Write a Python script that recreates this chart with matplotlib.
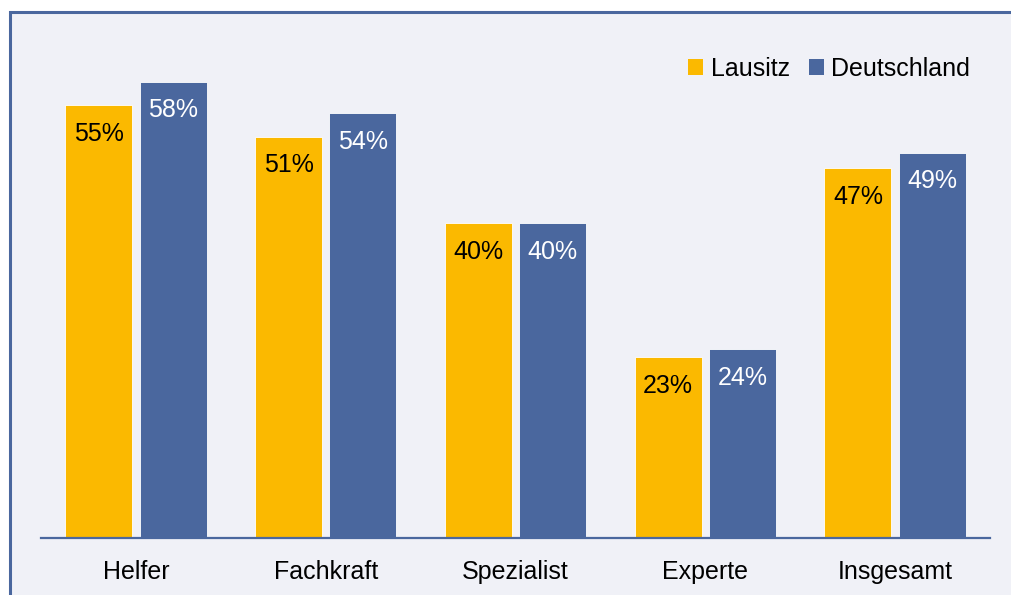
import matplotlib.pyplot as plt
from matplotlib.patches import Rectangle, Patch
import numpy as np

plt.rcParams['font.family'] = ['Liberation Sans', 'DejaVu Sans']

categories = ["Helfer", "Fachkraft", "Spezialist", "Experte", "Insgesamt"]
lausitz = [0.55, 0.51, 0.40, 0.23, 0.47]
deutschland = [0.58, 0.54, 0.40, 0.24, 0.49]
series_names = ["Lausitz", "Deutschland"]

yellow = "#FBB900"
blue = "#4A679E"
bg = "#F0F1F7"

W, H = 1011, 595
fig = plt.figure(figsize=(W / 100, H / 100), dpi=100)
fig.patch.set_facecolor("white")

# framed background panel
frame = Rectangle((10 / W, -0.05), 1.1, (H - 12) / H + 0.05, transform=fig.transFigure,
                  facecolor=bg, edgecolor=blue, linewidth=2.2, zorder=-10)
fig.patches.append(frame)

ax = fig.add_axes([41 / W, 57 / H, (990 - 41) / W, 519 / H])
ax.set_facecolor("none")

x = np.arange(len(categories))
w = 0.353
off = 0.196
b1 = ax.bar(x - off, lausitz, w, color=yellow, edgecolor="white", linewidth=0.6, label=series_names[0])
b2 = ax.bar(x + off, deutschland, w, color=blue, edgecolor="white", linewidth=0.6, label=series_names[1])

for bars, vals, col in [(b1, lausitz, "black"), (b2, deutschland, "white")]:
    for r, v in zip(bars, vals):
        ax.annotate(f"{v:.0%}", (r.get_x() + r.get_width() / 2, v), xytext=(0, -20.5),
                    textcoords="offset points", ha="center", va="center", fontsize=18, color=col)

ax.set_xlim(-0.5, len(categories) - 0.5)
ax.set_ylim(0, 0.66)
ax.set_xticks(x)
ax.set_xticklabels(categories, fontsize=18)
ax.tick_params(axis="x", length=0, pad=15.5)
ax.set_yticks([])
for s in ["top", "left", "right"]:
    ax.spines[s].set_visible(False)
ax.spines["bottom"].set_color(blue)
ax.spines["bottom"].set_linewidth(1.6)

handles = [Patch(facecolor=yellow), Patch(facecolor=blue)]
ax.legend(handles, series_names, loc="center right", bbox_to_anchor=(970 / W, (H - 69) / H),
          bbox_transform=fig.transFigure, ncol=2, frameon=False, fontsize=18,
          handlelength=0.6, handleheight=0.6, handletextpad=0.3, columnspacing=0.75,
          borderpad=0, borderaxespad=0)

fig.savefig("out.png", dpi=100, facecolor=fig.get_facecolor())
